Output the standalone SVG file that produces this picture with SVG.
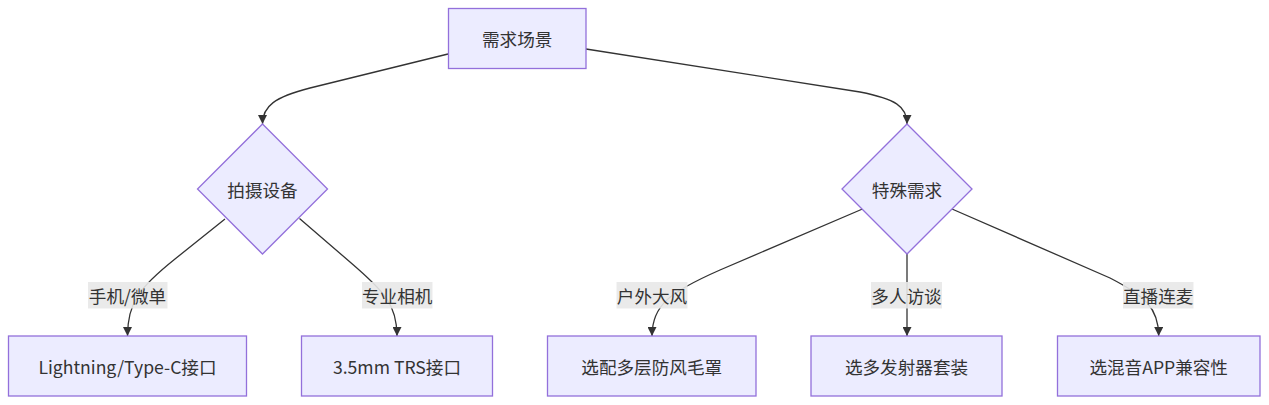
<svg xmlns="http://www.w3.org/2000/svg" width="1269" height="405" viewBox="0 0 1269 405">
<style>
.node{fill:#ECECFF;stroke:#9370DB;stroke-width:1.3}
.lbl{font-family:"Noto Sans CJK SC","Noto Sans",sans-serif;font-size:17.6px;fill:#333;text-anchor:middle;dominant-baseline:central}
.edge{fill:none;stroke:#333;stroke-width:1.3}
.ebg{fill:#e8e8e8;fill-opacity:0.9}
</style>
<defs>
<marker id="arr" viewBox="0 0 10 10" refX="10" refY="5" markerWidth="9" markerHeight="9" markerUnits="userSpaceOnUse" orient="auto">
<path d="M0,0 L10,5 L0,10 z" fill="#333"/>
</marker>
</defs>
<rect width="1269" height="405" fill="#fff"/>
<g id="connectors">
<path class="edge" d="M448,54 L310,88 C275,97 262.5,106 262.5,124" marker-end="url(#arr)"/>
<path class="edge" d="M586,49 L860,92 C895,99 907,106 907,124" marker-end="url(#arr)"/>
<path class="edge" d="M225,219 L175,259 C140,287 127.5,302 127.5,336" marker-end="url(#arr)"/>
<path class="edge" d="M299.5,218.5 L350,262 C385,292 397,305 397,336" marker-end="url(#arr)"/>
<path class="edge" d="M862.5,209 L720,270 C670,292 652,305 652,336" marker-end="url(#arr)"/>
<path class="edge" d="M907,254 L907,336" marker-end="url(#arr)"/>
<path class="edge" d="M952,209 L1110,278 C1145,296 1158.7,308 1158.7,336" marker-end="url(#arr)"/>
</g>
<g id="edge-labels">
<g id="el1"><rect class="ebg" x="88" y="282" width="79.5" height="26.5"/><text class="lbl" x="127.5" y="295.5">手机/微单</text></g>
<g id="el2"><rect class="ebg" x="362" y="282" width="70.5" height="26.5"/><text class="lbl" x="397.2" y="295.5">专业相机</text></g>
<g id="el3"><rect class="ebg" x="616.5" y="282" width="71" height="26.5"/><text class="lbl" x="652" y="295.5">户外大风</text></g>
<g id="el4"><rect class="ebg" x="871" y="282" width="71" height="26.5"/><text class="lbl" x="906.5" y="295.5">多人访谈</text></g>
<g id="el5"><rect class="ebg" x="1123" y="282" width="70.5" height="26.5"/><text class="lbl" x="1158.2" y="295.5">直播连麦</text></g>
</g>
<g id="n-top"><rect class="node" x="448.5" y="8.5" width="137.5" height="60"/><text class="lbl" x="517.2" y="38.5">需求场景</text></g>
<g id="n-device"><polygon class="node" points="262.5,124 327.5,189 262.5,254 197.5,189"/><text class="lbl" x="262.5" y="189">拍摄设备</text></g>
<g id="n-special"><polygon class="node" points="907,124 972,189 907,254 842,189"/><text class="lbl" x="907" y="189">特殊需求</text></g>
<g id="n-lightning"><rect class="node" x="8.5" y="336" width="238" height="60"/><text class="lbl" x="127.5" y="366">Lightning/Type-C接口</text></g>
<g id="n-trs"><rect class="node" x="301.5" y="336" width="191" height="60"/><text class="lbl" x="397" y="366">3.5mm TRS接口</text></g>
<g id="n-wind"><rect class="node" x="547.5" y="336" width="208.5" height="60"/><text class="lbl" x="651.7" y="366">选配多层防风毛罩</text></g>
<g id="n-tx"><rect class="node" x="811" y="336" width="191" height="60"/><text class="lbl" x="906.5" y="366">选多发射器套装</text></g>
<g id="n-mix"><rect class="node" x="1057.5" y="336" width="202.5" height="60"/><text class="lbl" x="1158.7" y="366">选混音APP兼容性</text></g>
</svg>
